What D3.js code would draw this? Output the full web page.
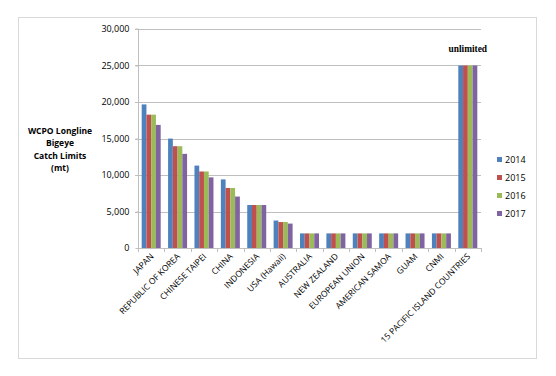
<!DOCTYPE html>
<html><head><meta charset="utf-8">
<script src="https://cdn.jsdelivr.net/npm/d3@7"></script>
<style>body{margin:0;background:#fff}svg{display:block}</style>
</head><body><svg id="c" width="556" height="376"></svg>
<script>
const categories = ["JAPAN","REPUBLIC OF KOREA","CHINESE TAIPEI","CHINA","INDONESIA","USA (Hawaii)","AUSTRALIA","NEW ZEALAND","EUROPEAN UNION","AMERICAN SAMOA","GUAM","CNMI","15 PACIFIC ISLAND COUNTRIES"];
const years = ["2014","2015","2016","2017"];
const v2014 = [19670,14986,11288,9398,5889,3763,2000,2000,2000,2000,2000,2000,25000];
const v2015 = [18265,13942,10481,8224,5889,3554,2000,2000,2000,2000,2000,2000,25000];
const v2016 = [18265,13942,10481,8224,5889,3554,2000,2000,2000,2000,2000,2000,25000];
const v2017 = [16860,12898,9675,7049,5889,3345,2000,2000,2000,2000,2000,2000,25000];
const yTicks = [0,5000,10000,15000,20000,25000,30000];
const colors = ["#4F81BD","#C0504D","#9BBB59","#8064A2"];
const series = [v2014,v2015,v2016,v2017];

const svg = d3.select("#c");
const font = "'Open Sans', sans-serif";
svg.append("rect").attr("x",18.5).attr("y",17.5).attr("width",518).attr("height",341)
  .attr("fill","#fff").attr("stroke","#D9D9D9");

const L=138,R=481,T=29,B=248;
const y = d3.scaleLinear().domain([0,30000]).range([B,T]);
const x0 = d3.scaleBand().domain(categories).range([L,R]);
const bw = x0.bandwidth();
const x1 = d3.scaleBand().domain(years).range([bw*0.14, bw*0.86]);

// gridlines
svg.append("g").selectAll("line").data(yTicks.filter(d=>d>0)).join("line")
  .attr("x1",L-3).attr("x2",R).attr("y1",d=>Math.round(y(d))+0.5).attr("y2",d=>Math.round(y(d))+0.5)
  .attr("stroke","#BFBFBF");
// y axis
const ya = svg.append("g").attr("transform",`translate(${L+0.5},0)`)
  .call(d3.axisLeft(y).tickValues(yTicks).tickSize(3).tickPadding(6).tickFormat(d3.format(",")));
ya.select(".domain").attr("stroke","#BFBFBF").attr("d",`M-3,${T}H0V${B}`);
ya.selectAll(".tick line").attr("stroke","#BFBFBF");
ya.selectAll(".tick text").attr("font-family",font).attr("font-size","9px").attr("fill","#000");

// bars
const g = svg.append("g");
series.forEach((s,i)=>{
  g.append("g").selectAll("rect").data(categories).join("rect")
    .attr("x",(c)=>x0(c)+x1(years[i]))
    .attr("width",x1.bandwidth())
    .attr("y",(c,j)=>y(s[j]))
    .attr("height",(c,j)=>B-y(s[j]))
    .attr("fill",colors[i]);
});

// x axis
svg.append("line").attr("x1",L).attr("x2",R).attr("y1",B+0.5).attr("y2",B+0.5).attr("stroke","#BFBFBF");
const bounds = categories.map(c=>x0(c)).concat([R]);
svg.append("g").selectAll("line").data(bounds).join("line")
  .attr("x1",d=>Math.round(d)+0.5).attr("x2",d=>Math.round(d)+0.5).attr("y1",B).attr("y2",B+4)
  .attr("stroke","#BFBFBF");
svg.append("g").selectAll("text").data(categories).join("text")
  .attr("transform",c=>`translate(${x0(c)+bw/2+3},${B+9}) rotate(-45)`)
  .attr("text-anchor","end").attr("font-family",font).attr("font-size","8.5px").attr("fill","#000")
  .text(c=>c);

// unlimited label
const last = categories[categories.length-1];
svg.append("text").attr("x",x0(last)+bw/2).attr("y",y(25000)-14)
  .attr("text-anchor","middle").attr("font-family","'Liberation Serif', serif")
  .attr("font-weight","bold").attr("font-size","9.4px").text("unlimited");

// y title
const tl = ["WCPO Longline","Bigeye","Catch Limits","(mt)"];
svg.append("g").selectAll("text").data(tl).join("text")
  .attr("x",60).attr("y",(d,i)=>134+i*12.3).attr("text-anchor","middle")
  .attr("font-family",font).attr("font-weight","bold").attr("font-size","8.5px").text(d=>d);

// legend
const lg = svg.append("g").selectAll("g").data(years).join("g")
  .attr("transform",(d,i)=>`translate(497,${157+i*18})`);
lg.append("rect").attr("width",5).attr("height",5).attr("fill",(d,i)=>colors[i]);
lg.append("text").attr("x",8).attr("y",5.5).attr("font-family",font).attr("font-size","9px").text(d=>d);
</script></body></html>
